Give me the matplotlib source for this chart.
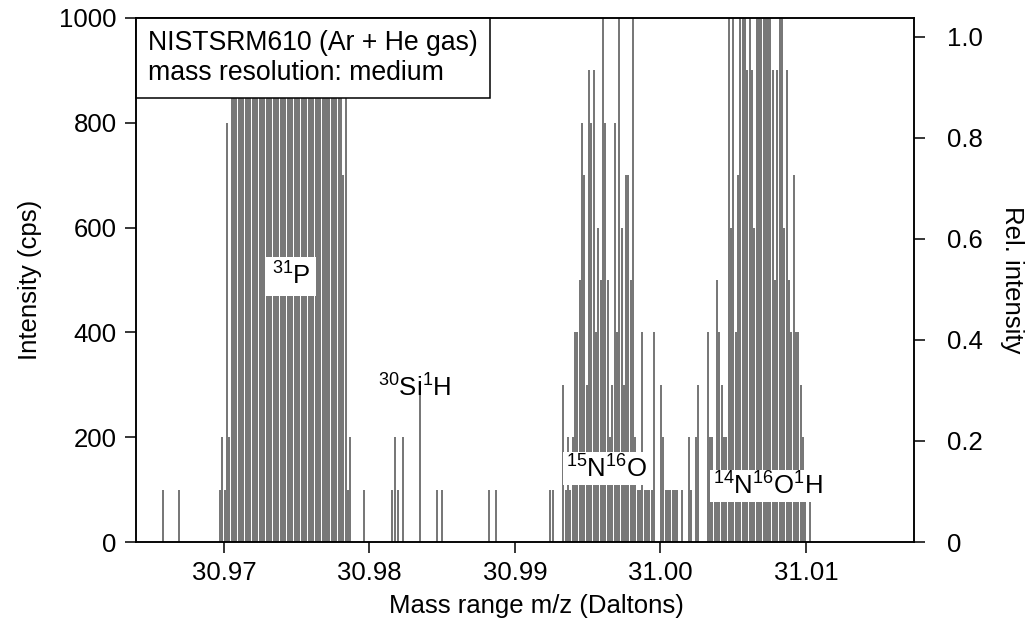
import numpy as np
import matplotlib
matplotlib.use('Agg')
import matplotlib.pyplot as plt
from matplotlib.offsetbox import AnchoredText
from matplotlib.ticker import FormatStrFormatter, FuncFormatter

plt.rcParams['font.family'] = ['Liberation Sans', 'DejaVu Sans']
plt.rcParams['mathtext.fontset'] = 'custom'
plt.rcParams['mathtext.rm'] = 'Liberation Sans'
plt.rcParams['mathtext.it'] = 'Liberation Sans:italic'
plt.rcParams['mathtext.bf'] = 'Liberation Sans:bold'
plt.rcParams['font.size'] = 18.5

# scan step (Da) between two measured points
step = 0.00016

# 31P peak, counts per scan point (1000 = off scale)
p_start = 30.96973
p_counts = [100, 200, 100, 800, 200,
            1000, 1000, 1000, 1000, 1000, 1000, 1000, 1000, 1000, 1000, 1000, 1000,
            1000, 1000, 1000, 1000, 1000, 1000, 1000, 1000, 1000, 1000, 1000, 1000,
            1000, 1000, 1000, 1000, 1000, 1000, 1000, 1000, 1000, 1000, 1000, 1000,
            1000, 1000, 1000, 1000, 1000, 1000, 1000, 1000, 1000, 1000, 1000, 1000,
            700, 1000, 100, 200]

# 15N16O and 14N16O1H peaks
no_start = 30.99332
no_counts = [300, 100, 200, 100, 200, 400, 400, 500, 800, 700,
             300, 900, 800, 900, 400, 600, 500, 1000, 800, 500,
             200, 300, 800, 400, 1000, 600, 300, 700, 700, 500,
             1000, 200, 100, 100, 400, 100, 100, 100, 100, 400,
             0, 0, 300, 200, 100, 100, 100, 100, 100, 100,
             0, 100, 0, 0, 200, 100, 0, 200, 300, 0,
             0, 0, 400, 200, 200, 100, 500, 400, 300, 200,
             200, 1000, 600, 1000, 400, 700, 1000, 1000, 1000, 900,
             1000, 900, 600, 1000, 1000, 1000, 1000, 1000, 1000, 1000,
             900, 500, 900, 1000, 1000, 600, 900, 500, 400, 700,
             400, 400, 300, 200, 100, 0, 100]

# isolated counts
single_mass = [30.96579, 30.96689, 30.97962, 30.98157, 30.98175, 30.98194,
               30.98232, 30.98347, 30.98466, 30.98500, 30.98823, 30.98869,
               30.99241, 30.99259]
single_counts = [100, 100, 100, 100, 200, 100, 200, 300, 100, 100, 100, 100, 100, 100]

p_mass = p_start + step * np.arange(len(p_counts))
no_mass = no_start + step * np.arange(len(no_counts))

mass = np.concatenate([single_mass, p_mass, no_mass])
counts = np.concatenate([single_counts, p_counts, no_counts])

fig = plt.figure(figsize=(10.34, 6.24), dpi=100)
ax = fig.add_axes([0.1315, 0.1314, 0.7524, 0.8398])
ax.vlines(mass[counts > 0], 0, counts[counts > 0], colors='#6a6a6a', linewidth=1.3)

ax.set_xlim(30.96395, 31.01742)
ax.set_ylim(0, 1000)
ax.set_xticks([30.97, 30.98, 30.99, 31.00, 31.01])
ax.xaxis.set_major_formatter(FormatStrFormatter('%.2f'))
ax.set_yticks([0, 200, 400, 600, 800, 1000])
ax.tick_params(direction='out', length=8, width=1.1, pad=6)
for s in ax.spines.values():
    s.set_linewidth(1.1)
ax.set_xlabel('Mass range m/z (Daltons)')
ax.xaxis.set_label_coords(0.515, -0.1)
ax.set_ylabel('Intensity (cps)', labelpad=12)

ax2 = ax.twinx()
ax2.set_ylim(0, 1.0376)
ax2.set_yticks([0, 0.2, 0.4, 0.6, 0.8, 1.0])
ax2.yaxis.set_major_formatter(FuncFormatter(lambda v, p: '0' if v == 0 else '%.1f' % v))
ax2.tick_params(direction='out', length=8, width=1.1, pad=16)
for s in ax2.spines.values():
    s.set_linewidth(1.1)
ax2.set_ylabel('Rel. intensity', rotation=-90, va='bottom', labelpad=12)

box = dict(facecolor='white', edgecolor='none', pad=4)
ax.text(30.97461, 507, r'$\mathrm{^{31}P}$', ha='center', va='center', bbox=box)
ax.text(30.98313, 278, r'$\mathrm{^{30}Si^{1}H}$', ha='center', va='baseline')
ax.text(30.99629, 140, r'$\mathrm{^{15}N^{16}O}$', ha='center', va='center',
        bbox=dict(facecolor='white', edgecolor='none', pad=2))
ax.text(31.00739, 107, r'$\mathrm{^{14}N^{16}O^{1}H}$', ha='center', va='center',
        bbox=dict(facecolor='white', edgecolor='none', pad=2))

info = AnchoredText('NISTSRM610 (Ar + He gas)\nmass resolution: medium', loc='upper left',
                    borderpad=0, pad=0.45, prop=dict(size=19.2))
info.patch.set_linewidth(1.1)
info.patch.set_boxstyle('square,pad=0')
ax.add_artist(info)

fig.savefig('out.png', dpi=100)
